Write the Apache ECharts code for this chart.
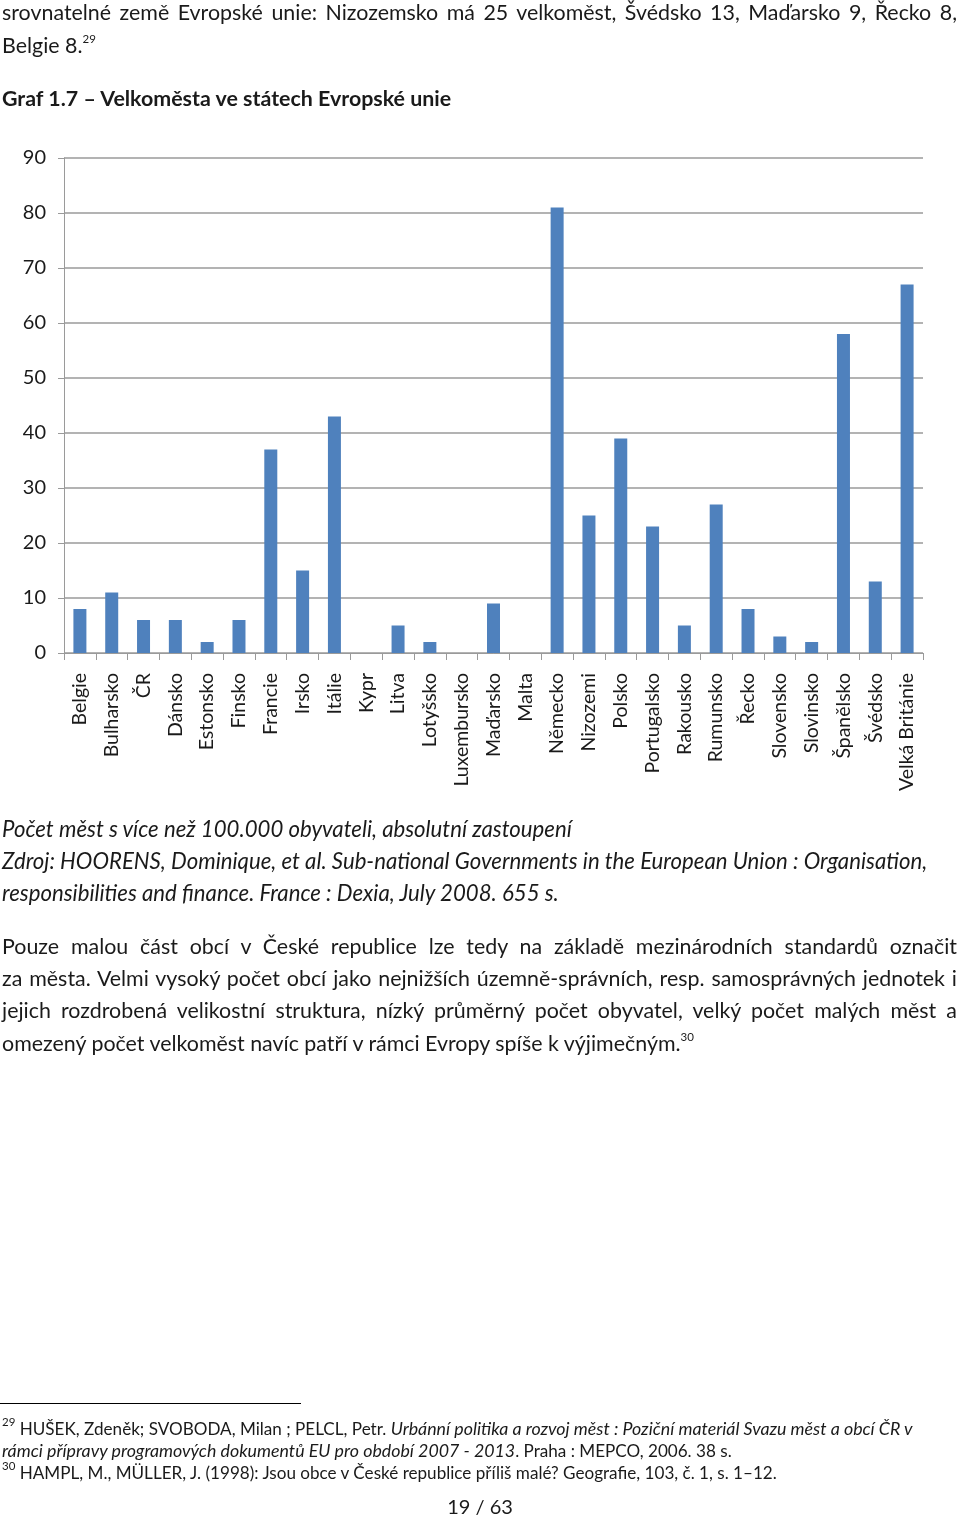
<!DOCTYPE html>
<html>
<head>
<meta charset="utf-8">
<script src="https://cdn.jsdelivr.net/npm/echarts@6/dist/echarts.min.js"></script>
<style>
  html, body { margin:0; padding:0; background:#fff; }
  body { width:960px; height:1520px; position:relative; overflow:hidden; font-family: Lato, "Open Sans", sans-serif; color:#1a1a1a; }
  #chart { position:absolute; left:0; top:0; width:960px; height:1520px; }
  .ln { position:absolute; left:2px; white-space:nowrap; font-size:21.4px; line-height:24px; }
  .j { width:955px; text-align:justify; text-align-last:justify; }
  .it { font-style:italic; font-size:22.2px; }
  .b { font-weight:bold; }
  .fn { font-size:17.1px; line-height:20px; }
  .fn i { font-size:17.8px; }
  sup { font-size:11.5px; position:relative; top:-2px; vertical-align:super; line-height:0; font-style:normal; }
  .rule { position:absolute; left:0; top:1403px; width:301px; height:1px; background:#000; }
</style>
</head>
<body>
<div id="chart"></div>

<div class="ln j" style="top:0px;">srovnatelné země Evropské unie: Nizozemsko má 25 velkoměst, Švédsko 13, Maďarsko 9, Řecko 8,</div>
<div class="ln" style="top:33px;">Belgie 8.<sup>29</sup></div>
<div class="ln b" style="top:86px;">Graf 1.7 – Velkoměsta ve státech Evropské unie</div>

<div class="ln it" style="top:817px;">Počet měst s více než 100.000 obyvateli, absolutní zastoupení</div>
<div class="ln it" style="top:849px;">Zdroj: HOORENS, Dominique, et al. Sub-national Governments in the European Union : Organisation,</div>
<div class="ln it" style="top:881px;">responsibilities and finance. France : Dexia, July 2008. 655 s.</div>

<div class="ln j" style="top:934px;">Pouze malou část obcí v České republice lze tedy na základě mezinárodních standardů označit</div>
<div class="ln j" style="top:966px;">za města. Velmi vysoký počet obcí jako nejnižších územně-správních, resp. samosprávných jednotek i</div>
<div class="ln j" style="top:998px;">jejich rozdrobená velikostní struktura, nízký průměrný počet obyvatel, velký počet malých měst a</div>
<div class="ln" style="top:1031px;">omezený počet velkoměst navíc patří v rámci Evropy spíše k výjimečným.<sup>30</sup></div>

<div class="rule"></div>
<div class="ln fn" style="top:1418px;"><sup>29</sup> HUŠEK, Zdeněk; SVOBODA, Milan ; PELCL, Petr. <i>Urbánní politika a rozvoj měst : Poziční materiál Svazu měst a obcí ČR v</i></div>
<div class="ln fn" style="top:1440px;"><i>rámci přípravy programových dokumentů EU pro období 2007 - 2013</i>. Praha : MEPCO, 2006. 38 s.</div>
<div class="ln fn" style="top:1463px;"><sup>30</sup> HAMPL, M., MÜLLER, J. (1998): Jsou obce v České republice příliš malé? Geografie, 103, č. 1, s. 1–12.</div>
<div class="ln" style="top:1494px; left:0; width:960px; text-align:center; font-size:20px;">19 / 63</div>

<script>
const categories = ["Belgie","Bulharsko","ČR","Dánsko","Estonsko","Finsko","Francie","Irsko","Itálie","Kypr","Litva","Lotyšsko","Luxembursko","Maďarsko","Malta","Německo","Nizozemi","Polsko","Portugalsko","Rakousko","Rumunsko","Řecko","Slovensko","Slovinsko","Španělsko","Švédsko","Velká Británie"];
const values = [8,11,6,6,2,6,37,15,43,0,5,2,0,9,0,81,25,39,23,5,27,8,3,2,58,13,67];
const yMin = 0, yMax = 90, yStep = 10;

const chart = echarts.init(document.getElementById('chart'), null, {renderer:'canvas'});
chart.setOption({
  animation: false,
  grid: { left: 64, right: 37, top: 158, bottom: 867, containLabel: false },
  xAxis: {
    type: 'category',
    data: categories,
    axisLine: { show: true, lineStyle: { color: '#9a9a9a', width: 1 } },
    axisTick: { show: true, length: 7, lineStyle: { color: '#9a9a9a' }, interval: 0 },
    axisLabel: { interval: 0, rotate: 90, margin: 20, fontSize: 19.5, color: '#1a1a1a', fontFamily: 'Lato, sans-serif' },
    splitLine: { show: false }
  },
  yAxis: {
    type: 'value',
    min: yMin, max: yMax, interval: yStep,
    axisLine: { show: true, lineStyle: { color: '#9a9a9a', width: 1 } },
    axisTick: { show: true, length: 6, lineStyle: { color: '#9a9a9a' } },
    axisLabel: { margin: 18, fontSize: 20, color: '#1a1a1a', fontFamily: 'Lato, sans-serif' },
    splitLine: { show: true, lineStyle: { color: '#9a9a9a', width: 1.5 } }
  },
  series: [{
    type: 'bar',
    data: values,
    barWidth: 13,
    itemStyle: { color: '#4F81BD' }
  }]
});
</script>
</body>
</html>
